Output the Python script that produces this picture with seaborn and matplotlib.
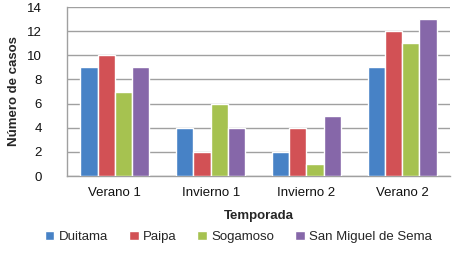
import matplotlib
matplotlib.use("Agg")
import matplotlib.pyplot as plt
import seaborn as sns
import pandas as pd
import numpy as np
from matplotlib.ticker import FixedLocator

categories = ["Verano 1", "Invierno 1", "Invierno 2", "Verano 2"]
series = ["Duitama", "Paipa", "Sogamoso", "San Miguel de Sema"]
duitama = [9, 4, 2, 9]
paipa = [10, 2, 4, 12]
sogamoso = [7, 6, 1, 11]
san_miguel = [9, 4, 5, 13]
colors = ["#4782C6", "#D25155", "#A6C250", "#8667A9"]

rows = []
for name, vals in zip(series, [duitama, paipa, sogamoso, san_miguel]):
    for c, v in zip(categories, vals):
        rows.append({"Temporada": c, "Serie": name, "Valor": v})
df = pd.DataFrame(rows)

sns.set_style("white")
plt.rcParams['font.family'] = ['Liberation Sans', 'DejaVu Sans']

fs = 9.5
fig = plt.figure(figsize=(4.56, 2.60), dpi=100)
ax = fig.add_axes([0.147, 0.323, 0.84, 0.65])
sns.barplot(data=df, x="Temporada", y="Valor", hue="Serie", order=categories,
            hue_order=series, palette=colors, width=0.72, saturation=1,
            ax=ax, legend=True, zorder=3)

ax.set_ylim(0, 14)
ax.set_yticks(np.arange(0, 15, 2))
ax.set_xlim(-0.5, len(categories) - 0.5)
ax.yaxis.grid(True, color="#A0A0A0", linewidth=1, zorder=0)
ax.set_axisbelow(True)
for s in ["top", "right"]:
    ax.spines[s].set_visible(False)
for s in ["left", "bottom"]:
    ax.spines[s].set_color("#A0A0A0")
    ax.spines[s].set_linewidth(1)

ax.tick_params(axis="x", which="major", length=0, pad=8, labelsize=fs, labelcolor="#111111")
ax.xaxis.set_minor_locator(FixedLocator(np.arange(-0.5, len(categories), 1.0)))
ax.tick_params(axis="x", which="minor", length=5, color="#A0A0A0", direction="out")
ax.tick_params(axis="y", length=5, color="#A0A0A0", labelsize=fs, pad=13,
               direction="out", labelcolor="#111111")

ax.set_xlabel("Temporada", fontsize=fs, fontweight="bold", labelpad=8)
ax.set_ylabel("Número de casos", fontsize=fs, fontweight="bold", labelpad=5)

leg = ax.legend(loc="center", bbox_to_anchor=(0.447, -0.36), ncol=4, frameon=False,
                fontsize=fs, handlelength=0.75, handleheight=0.75, handletextpad=0.3,
                columnspacing=1.6)

fig.savefig("out.png", dpi=100)
